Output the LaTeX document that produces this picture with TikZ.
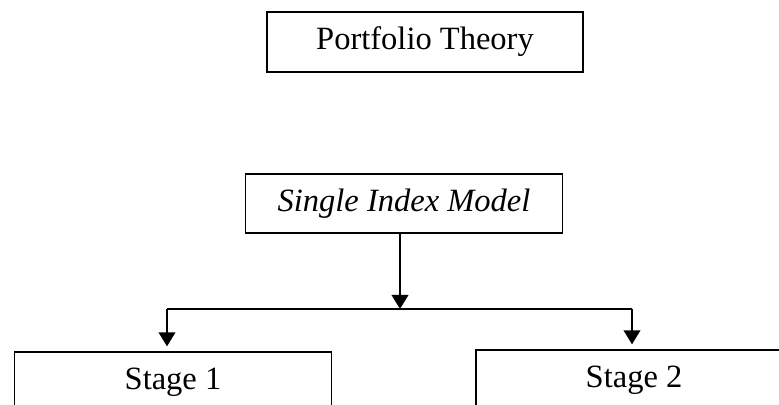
\documentclass[tikz,border=0pt]{standalone}
\usepackage{fontspec}
\setmainfont{Liberation Serif}
\usetikzlibrary{arrows.meta}

\tikzset{
  stagebox/.style={draw,line width=0.5pt,inner sep=0pt,minimum width=127pt,minimum height=24pt,font=\fontsize{13}{15}\selectfont},
  flow/.style={line width=0.8pt,-{Triangle[length=5.6pt,width=6.6pt]}},
}

\begin{document}
\begin{tikzpicture}[x=0.4pt,y=0.4pt,line join=miter]
  \useasboundingbox (0,0) rectangle (779,405);
  \clip (0,0) rectangle (779,405);
  % boxes
  \node[stagebox,minimum width=126.4pt] (theory) at (425,363) {Portfolio Theory};
  \node[stagebox,minimum height=23.6pt,font=\fontsize{13}{15}\selectfont\itshape] (sim) at (404,201.5) {Single Index Model};
  \node[stagebox] (stageA) at (173,23) {Stage 1};
  \node[stagebox,minimum width=126.4pt] (stageB) at (634,25) {Stage 2};
  % branching
  \coordinate (split) at (400,96);
  \coordinate (leftend) at (167,96);
  \coordinate (rightend) at (632,96);
  \draw[flow] (sim.south -| split) -- (split);
  \draw[line width=0.8pt] (leftend) -- (rightend);
  \draw[flow,shorten >=2pt] (leftend) -- (leftend |- stageA.north);
  \draw[flow,shorten >=2pt] (rightend) -- (rightend |- stageB.north);
\end{tikzpicture}
\end{document}
